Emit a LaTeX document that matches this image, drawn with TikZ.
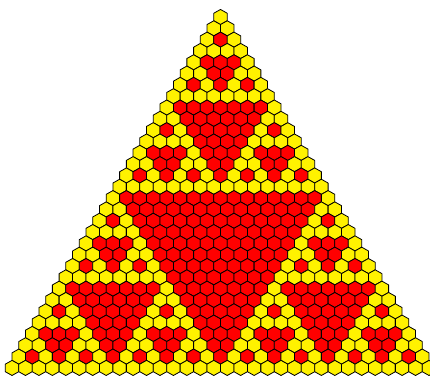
\documentclass[tikz,border=0pt]{standalone}
\usepackage{tikz}

\begin{document}
\begin{tikzpicture}[x=1pt, y=-1pt,
  declare function={
    bitof(\a,\p) = mod(floor(\a/\p),2);
    inrow(\n,\k,\p) = 1-bitof(\k,\p)*(1-bitof(\n,\p));
    pascalodd(\n,\k) = inrow(\n,\k,1)*inrow(\n,\k,2)*inrow(\n,\k,4)*inrow(\n,\k,8)*inrow(\n,\k,16);
  }]
  % Define hexagon cell styles
  \tikzstyle{hexodd} = [draw=black, fill=yellow, line width=0.8pt, line join=round]
  \tikzstyle{hexeven} = [draw=black, fill=red, line width=0.8pt, line join=round]

  \useasboundingbox (0,0) rectangle (430,376);

  % Pascal triangle mod 2, one hexagon per entry
  \foreach \n in {0,...,31}{
    \foreach \k in {0,...,\n}{
      \pgfmathtruncatemacro{\isodd}{pascalodd(\n,\k)}
      \pgfmathsetmacro{\cx}{220.5+(\k-\n/2)*13.45}
      \pgfmathsetmacro{\cy}{17+\n*11.32}
      \ifnum\isodd=1 \def\cellstyle{hexodd}\else\def\cellstyle{hexeven}\fi
      \draw[\cellstyle, shift={(\cx,\cy)}]
        (0,-7.55) -- (6.72,-3.77) -- (6.72,3.77) -- (0,7.55)
        -- (-6.72,3.77) -- (-6.72,-3.77) -- cycle;
    }
  }
\end{tikzpicture}
\end{document}
